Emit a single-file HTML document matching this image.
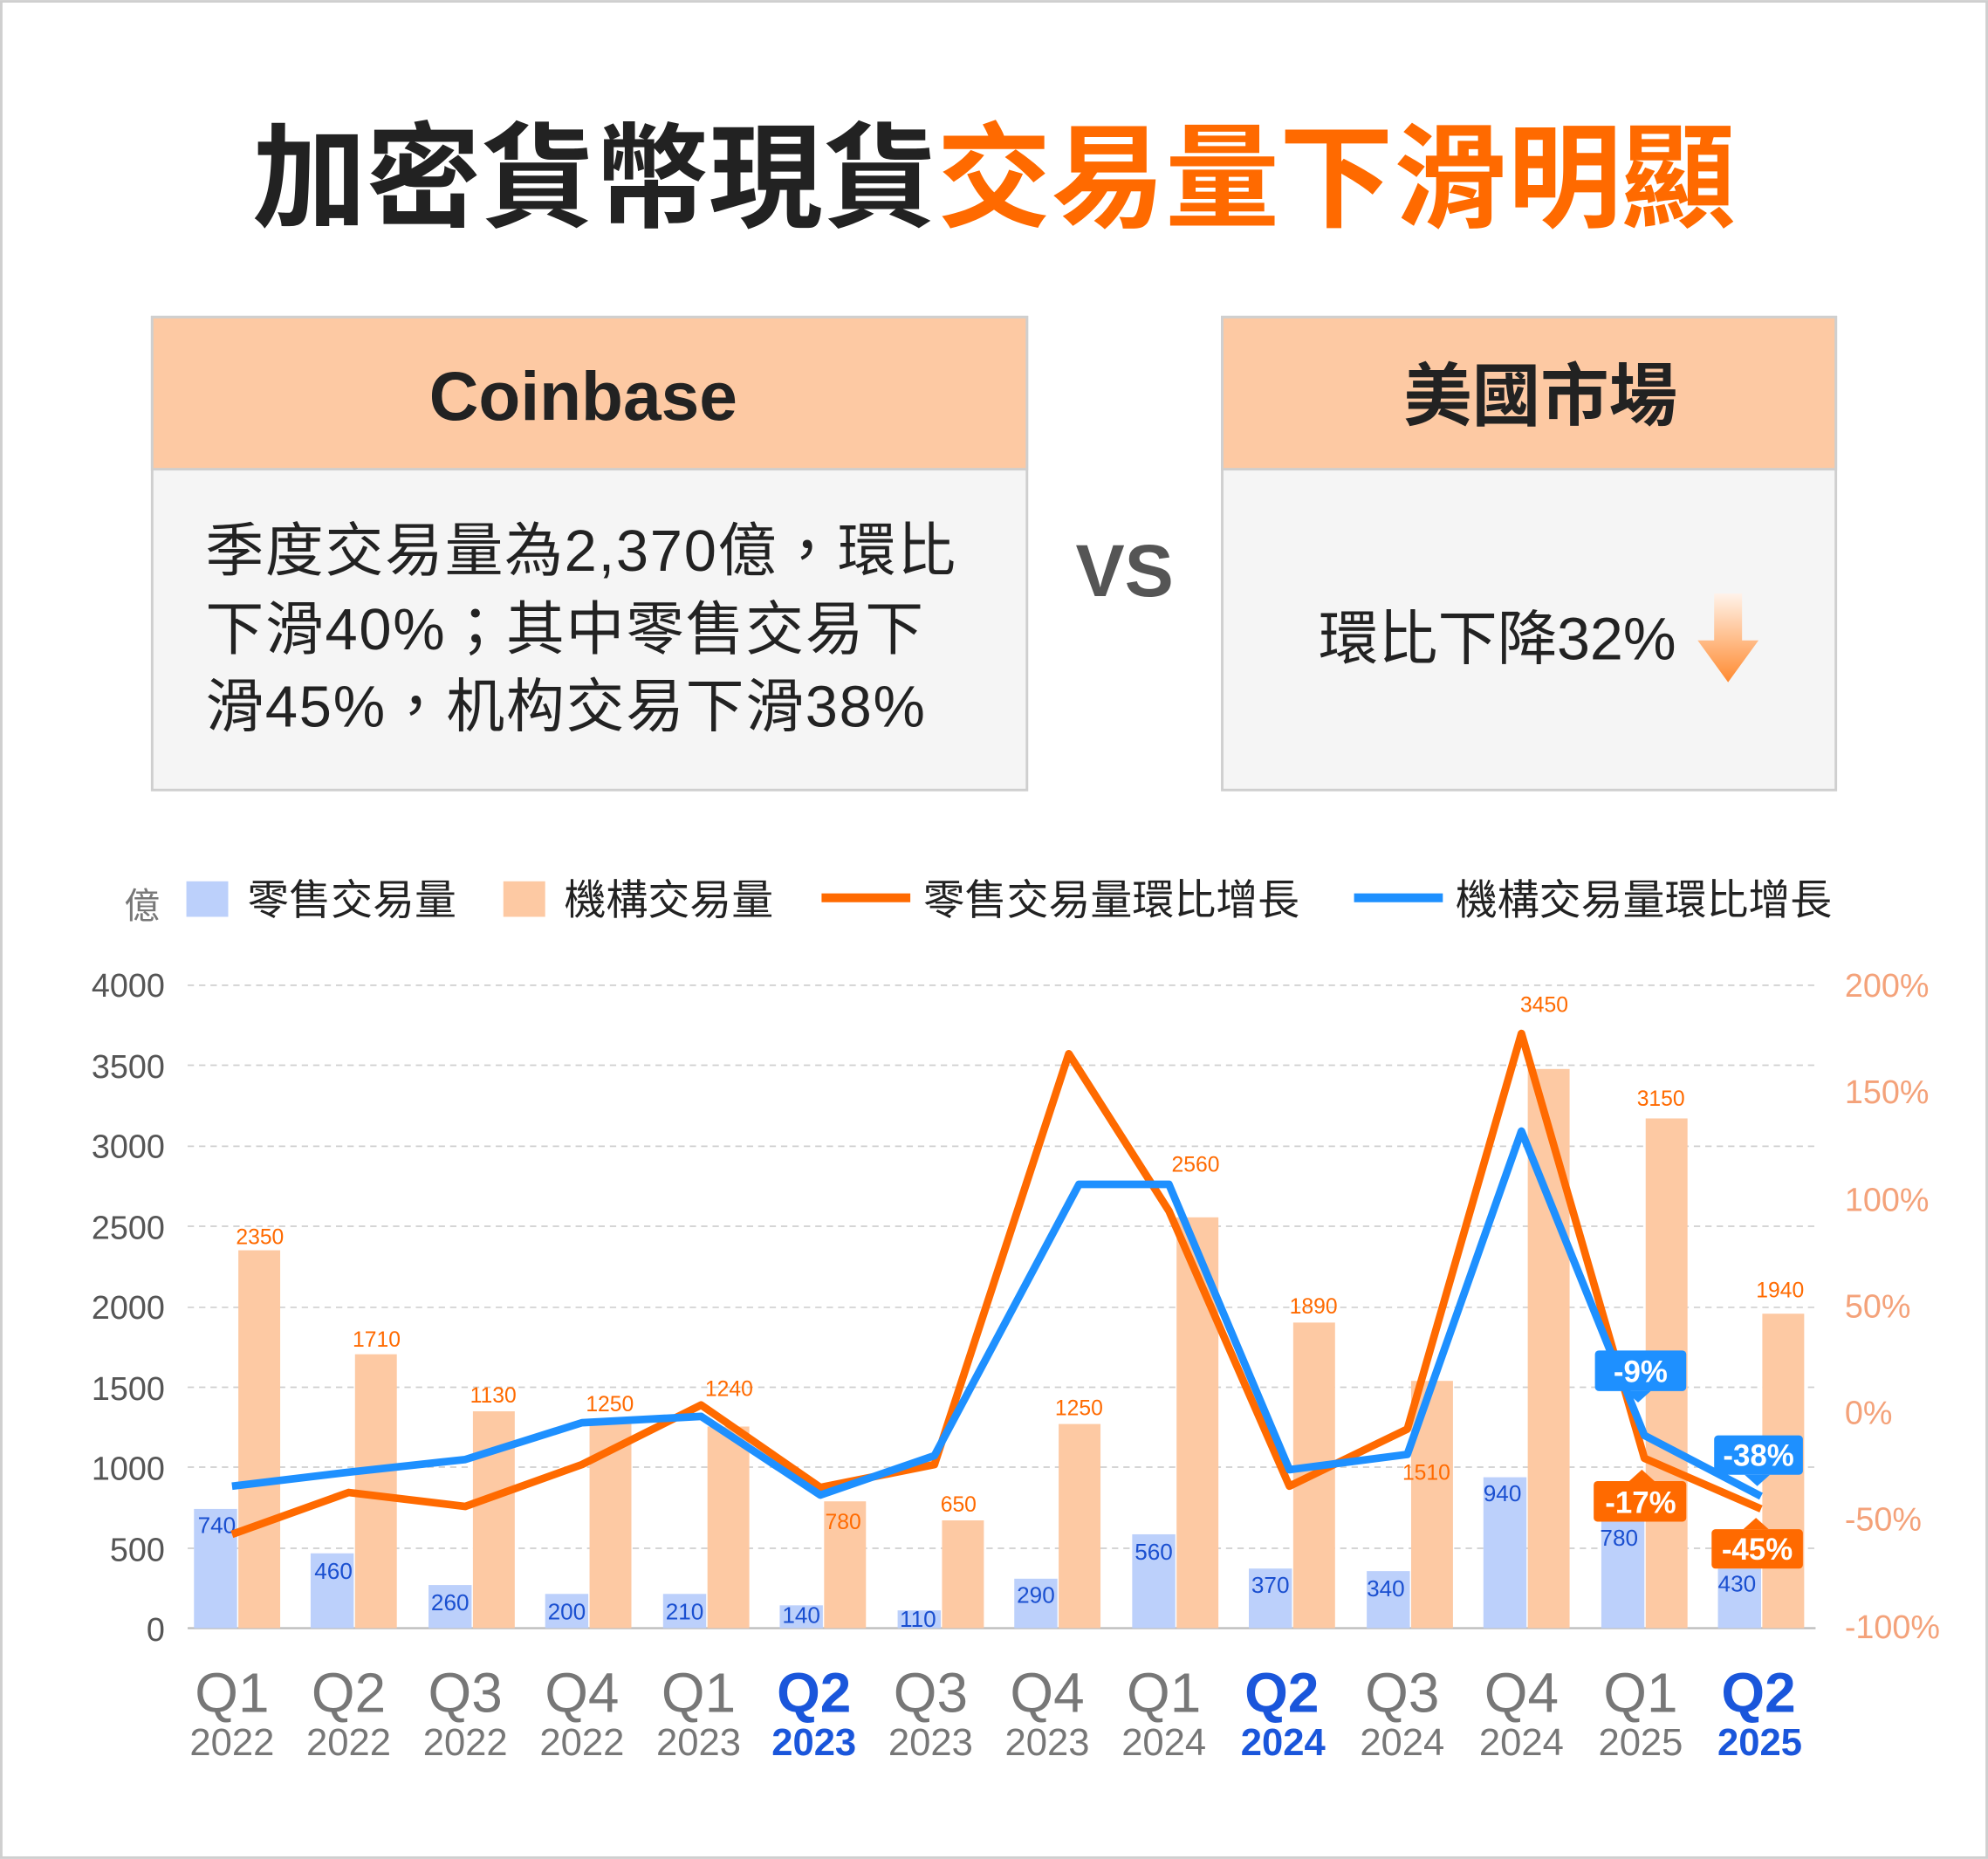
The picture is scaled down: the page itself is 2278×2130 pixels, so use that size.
<!DOCTYPE html>
<html><head><meta charset="utf-8"><style>
html,body{margin:0;padding:0;background:#fff}
svg{display:block}
text{font-family:"Liberation Sans","Noto Sans CJK TC",sans-serif}
</style></head><body>
<svg width="2278" height="2130" viewBox="0 0 1568 1466" xmlns="http://www.w3.org/2000/svg">
<defs>
<linearGradient id="ag" x1="0" y1="0" x2="0" y2="1"><stop offset="0" stop-color="#fff3ea"/><stop offset="1" stop-color="#ff8a30"/></linearGradient>
</defs>
<rect x="1" y="1" width="1566" height="1464" fill="#fff" stroke="#cfcfcf" stroke-width="2"/>
<text x="784" y="172" text-anchor="middle" font-size="90" font-weight="bold" letter-spacing="0"><tspan fill="#222">加密貨幣現貨</tspan><tspan fill="#ff6a00">交易量下滑明顯</tspan></text>

<rect x="120" y="250" width="690" height="373" fill="#f5f5f5" stroke="#cfcfcf" stroke-width="2"/>
<rect x="120" y="250" width="690" height="120" fill="#fdc9a3" stroke="#cfcfcf" stroke-width="2"/>
<text x="460" y="331" text-anchor="middle" font-size="54" font-weight="bold" fill="#222">Coinbase</text>
<text font-size="46" fill="#222" letter-spacing="1.2"><tspan x="162" y="450">季度交易量為2,370億，環比</tspan><tspan x="162" y="512">下滑40%；其中零售交易下</tspan><tspan x="162" y="573">滑45%，机构交易下滑38%</tspan></text>
<text x="887" y="470" text-anchor="middle" font-size="58" font-weight="bold" fill="#555">VS</text>
<rect x="964" y="250" width="484" height="373" fill="#f5f5f5" stroke="#cfcfcf" stroke-width="2"/>
<rect x="964" y="250" width="484" height="120" fill="#fdc9a3" stroke="#cfcfcf" stroke-width="2"/>
<text x="1215" y="331" text-anchor="middle" font-size="54" font-weight="bold" fill="#222">美國市場</text>
<text x="1040" y="520" font-size="47" fill="#222">環比下降32%</text>
<path d="M1352 468 H1374 V505 H1387 L1363 538 L1339 505 H1352 Z" fill="url(#ag)"/>

<!-- legend -->
<text x="98" y="724" font-size="28" fill="#777">億</text>
<rect x="147" y="695" width="33" height="28" fill="#bcd0fb"/>
<text x="195" y="721" font-size="33" fill="#222">零售交易量</text>
<rect x="397" y="695" width="33" height="28" fill="#fdc9a3"/>
<text x="445" y="721" font-size="33" fill="#222">機構交易量</text>
<line x1="648" y1="708" x2="718" y2="708" stroke="#ff6a00" stroke-width="7"/>
<text x="728" y="721" font-size="33" fill="#222">零售交易量環比增長</text>
<line x1="1068" y1="708" x2="1138" y2="708" stroke="#1e90ff" stroke-width="7"/>
<text x="1148" y="721" font-size="33" fill="#222">機構交易量環比增長</text>

<!-- grid -->
<g stroke="#cfcfcf" stroke-width="1.2" stroke-dasharray="5,4">
<line x1="148" y1="777" x2="1432" y2="777"/><line x1="148" y1="840" x2="1432" y2="840"/><line x1="148" y1="904" x2="1432" y2="904"/><line x1="148" y1="967" x2="1432" y2="967"/><line x1="148" y1="1031" x2="1432" y2="1031"/><line x1="148" y1="1094" x2="1432" y2="1094"/><line x1="148" y1="1157" x2="1432" y2="1157"/><line x1="148" y1="1221" x2="1432" y2="1221"/>
</g>
<line x1="148" y1="1284" x2="1432" y2="1284" stroke="#bbb" stroke-width="1.5"/>
<g font-size="26" fill="#555" text-anchor="end">
<text x="130" y="786">4000</text><text x="130" y="850">3500</text><text x="130" y="913">3000</text><text x="130" y="977">2500</text><text x="130" y="1040">2000</text><text x="130" y="1104">1500</text><text x="130" y="1167">1000</text><text x="130" y="1231">500</text><text x="130" y="1294">0</text>
</g>
<g font-size="26" fill="#f4a27a">
<text x="1455" y="786">200%</text><text x="1455" y="870">150%</text><text x="1455" y="955">100%</text><text x="1455" y="1039">50%</text><text x="1455" y="1123">0%</text><text x="1455" y="1207">-50%</text><text x="1455" y="1292">-100%</text>
</g>

<!-- bars -->
<g fill="#fdc9a3">
<rect x="188" y="986" width="33" height="298"/><rect x="280" y="1068" width="33" height="216"/><rect x="373" y="1113" width="33" height="171"/><rect x="465" y="1123" width="33" height="161"/><rect x="558" y="1125" width="33" height="159"/><rect x="650" y="1184" width="33" height="100"/><rect x="743" y="1199" width="33" height="85"/><rect x="835" y="1123" width="33" height="161"/><rect x="928" y="960" width="33" height="324"/><rect x="1020" y="1043" width="33" height="241"/><rect x="1113" y="1089" width="33" height="195"/><rect x="1205" y="843" width="33" height="441"/><rect x="1298" y="882" width="33" height="402"/><rect x="1390" y="1036" width="33" height="248"/>
</g>
<g fill="#bcd0fb">
<rect x="153" y="1190" width="34" height="94"/><rect x="245" y="1225" width="34" height="59"/><rect x="338" y="1250" width="34" height="34"/><rect x="430" y="1257" width="34" height="27"/><rect x="523" y="1257" width="34" height="27"/><rect x="615" y="1266" width="34" height="18"/><rect x="708" y="1270" width="34" height="14"/><rect x="800" y="1245" width="34" height="39"/><rect x="893" y="1210" width="34" height="74"/><rect x="985" y="1237" width="34" height="47"/><rect x="1078" y="1239" width="34" height="45"/><rect x="1170" y="1165" width="34" height="119"/><rect x="1263" y="1185" width="34" height="99"/><rect x="1355" y="1237" width="34" height="47"/>
</g>
<g font-size="17" fill="#ff6a00" text-anchor="middle">
<text x="205" y="981">2350</text><text x="297" y="1062">1710</text><text x="389" y="1106">1130</text><text x="481" y="1113">1250</text><text x="575" y="1101">1240</text><text x="665" y="1206">780</text><text x="756" y="1192">650</text><text x="851" y="1116">1250</text><text x="943" y="924">2560</text><text x="1036" y="1036">1890</text><text x="1125" y="1167">1510</text><text x="1218" y="798">3450</text><text x="1310" y="872">3150</text><text x="1404" y="1023">1940</text>
</g>
<g font-size="18" fill="#1a4fd0" text-anchor="middle">
<text x="171" y="1209">740</text><text x="263" y="1245">460</text><text x="355" y="1270">260</text><text x="447" y="1277">200</text><text x="540" y="1277">210</text><text x="632" y="1280">140</text><text x="724" y="1283">110</text><text x="817" y="1264">290</text><text x="910" y="1230">560</text><text x="1002" y="1256">370</text><text x="1093" y="1259">340</text><text x="1185" y="1184">940</text><text x="1277" y="1219">780</text><text x="1370" y="1255">430</text>
</g>

<!-- lines -->
<polyline fill="none" stroke="#ff6a00" stroke-width="6" stroke-linejoin="round" points="183,1210 275,1177 367,1188 459,1155 553,1108 647,1173 737,1155 843,831 922,955 1017,1172 1110,1127 1200,815 1297,1150 1389,1190"/>
<polyline fill="none" stroke="#1e90ff" stroke-width="6" stroke-linejoin="round" points="183,1172 275,1161 367,1151 459,1122 553,1117 647,1179 737,1148 851,934 922,934 1017,1159 1110,1147 1200,892 1297,1132 1389,1180"/>

<!-- callouts -->
<g font-size="24" font-weight="bold" fill="#fff" text-anchor="middle">
<rect x="1258" y="1065" width="72" height="32" rx="3" fill="#1e90ff"/><path d="M1282 1097 L1292 1106 L1302 1097Z" fill="#1e90ff"/><text x="1294" y="1090">-9%</text>
<rect x="1257" y="1168" width="73" height="32" rx="3" fill="#ff6a00"/><path d="M1285 1168 L1295 1159 L1305 1168Z" fill="#ff6a00"/><text x="1294" y="1193">-17%</text>
<rect x="1352" y="1132" width="70" height="31" rx="3" fill="#1e90ff"/><path d="M1376 1163 L1386 1172 L1396 1163Z" fill="#1e90ff"/><text x="1387" y="1156">-38%</text>
<rect x="1350" y="1206" width="72" height="31" rx="3" fill="#ff6a00"/><path d="M1375 1206 L1385 1197 L1395 1206Z" fill="#ff6a00"/><text x="1386" y="1230">-45%</text>
</g>

<!-- x labels -->
<g text-anchor="middle" fill="#777">
<g font-size="44">
<text x="183" y="1350">Q1</text><text x="275" y="1350">Q2</text><text x="367" y="1350">Q3</text><text x="459" y="1350">Q4</text><text x="551" y="1350">Q1</text><text x="734" y="1350">Q3</text><text x="826" y="1350">Q4</text><text x="918" y="1350">Q1</text><text x="1106" y="1350">Q3</text><text x="1200" y="1350">Q4</text><text x="1294" y="1350">Q1</text>
</g>
<g font-size="30">
<text x="183" y="1384">2022</text><text x="275" y="1384">2022</text><text x="367" y="1384">2022</text><text x="459" y="1384">2022</text><text x="551" y="1384">2023</text><text x="734" y="1384">2023</text><text x="826" y="1384">2023</text><text x="918" y="1384">2024</text><text x="1106" y="1384">2024</text><text x="1200" y="1384">2024</text><text x="1294" y="1384">2025</text>
</g>
</g>
<g text-anchor="middle" fill="#1a56db" font-weight="bold">
<text x="642" y="1350" font-size="44">Q2</text><text x="642" y="1384" font-size="30">2023</text>
<text x="1011" y="1350" font-size="44">Q2</text><text x="1012" y="1384" font-size="30">2024</text>
<text x="1387" y="1350" font-size="44">Q2</text><text x="1388" y="1384" font-size="30">2025</text>
</g>
</svg>
</body></html>
